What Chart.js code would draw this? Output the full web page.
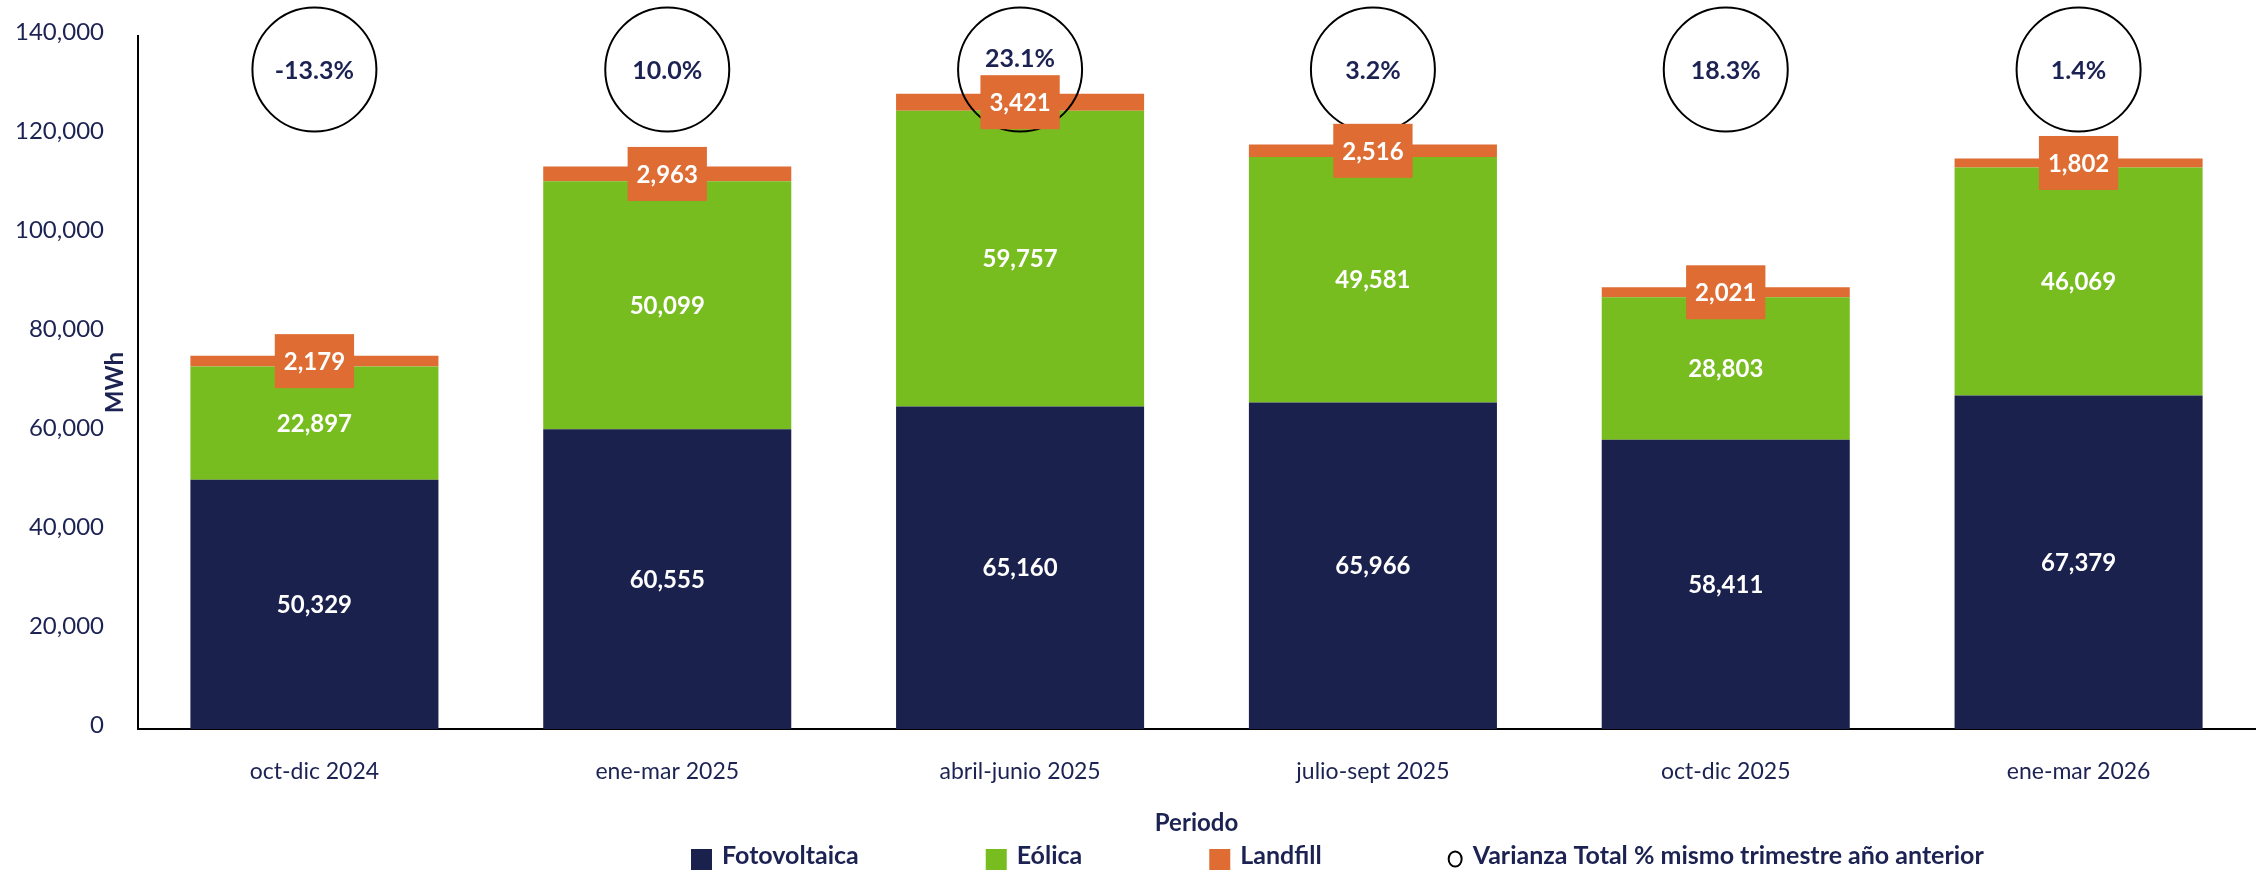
<!DOCTYPE html>
<html>
<head>
<meta charset="utf-8">
<script src="https://cdn.jsdelivr.net/npm/chart.js@4.4.1/dist/chart.umd.min.js"></script>
<style>
  html, body { margin: 0; padding: 0; background: #fff; }
  canvas { display: block; }
</style>
</head>
<body>
<canvas id="myChart" width="2259" height="872"></canvas>
<script>
// data
const periods = ["oct-dic 2024", "ene-mar 2025", "abril-junio 2025", "julio-sept 2025", "oct-dic 2025", "ene-mar 2026"];
const fotovoltaica = [50329, 60555, 65160, 65966, 58411, 67379];
const eolica = [22897, 50099, 59757, 49581, 28803, 46069];
const landfill = [2179, 2963, 3421, 2516, 2021, 1802];
const varianza = [-13.3, 10.0, 23.1, 3.2, 18.3, 1.4];
const yTicks = [0, 20000, 40000, 60000, 80000, 100000, 120000, 140000];

const navy = "#1b214d",
  green = "#78bd20",
  orange = "#de6c33",
  textNavy = "#1c2353",
  fontFam = "Lato, 'Noto Sans', sans-serif";

// number with thousands comma
function fmt(n) {
  return n.toLocaleString("en-US");
}

//circles, value labels and landfill boxes
const labelPlugin = {
  id: "labelPlugin",
  afterDatasetsDraw(chart) {
    const ctx = chart.ctx;
    const xs = chart.scales.x;
    const cyCircle = chart.chartArea.top + 33.5;
    ctx.save();
    ctx.strokeStyle = "#000";
    ctx.lineWidth = 2;
    periods.forEach((p, i) => {
      ctx.beginPath();
      ctx.arc(xs.getPixelForValue(i), cyCircle, 62, 0, Math.PI * 2);
      ctx.stroke();
    });

    ctx.font = "bold 24px " + fontFam;
    ctx.textAlign = "center";
    ctx.textBaseline = "middle";
    ctx.fillStyle = "#fff";
    [0, 1].forEach((d) => {
      chart.getDatasetMeta(d).data.forEach((el, i) => {
        ctx.fillText(fmt(chart.data.datasets[d].data[i]), el.x, (el.y + el.base) / 2 + 1);
      });
    });

    chart.getDatasetMeta(2).data.forEach((el, i) => {
      ctx.font = "bold 24px " + fontFam;
      const t = fmt(landfill[i]);
      const w = ctx.measureText(t).width + 18;
      const cy = (el.y + el.base) / 2;
      ctx.fillStyle = orange;
      ctx.fillRect(el.x - w / 2, cy - 27, w, 54);
      ctx.fillStyle = "#fff";
      ctx.fillText(t, el.x, cy + 1);
      // percent in the circle, pushed up if it would hit the box
      let ty = cyCircle + 1;
      if (ty + 16 > cy - 27) ty = cy - 27 - 16;
      ctx.font = "bold 25px " + fontFam;
      ctx.fillStyle = textNavy;
      ctx.fillText(varianza[i].toFixed(1) + "%", el.x, ty);
    });
    ctx.restore();
  },
  afterDraw(chart) {
    //legend drawn by hand
    const ctx = chart.ctx;
    ctx.save();
    ctx.font = "bold 25px " + fontFam;
    ctx.textBaseline = "middle";
    ctx.textAlign = "left";
    let x = 691;
    const y = 856;
    const items = [
      { text: "Fotovoltaica", color: navy },
      { text: "Eólica", color: green },
      { text: "Landfill", color: orange },
      { text: "Varianza Total % mismo trimestre año anterior", circle: true },
    ];
    items.forEach((it) => {
      if (it.circle) {
        ctx.strokeStyle = "#000";
        ctx.lineWidth = 2;
        ctx.beginPath();
        ctx.ellipse(x + 6.5, y + 3, 6.5, 7.5, 0, 0, Math.PI * 2);
        ctx.stroke();
        x += 24;
      } else {
        ctx.fillStyle = it.color;
        ctx.fillRect(x, y - 7, 21, 21);
        x += 31;
      }
      ctx.fillStyle = textNavy;
      ctx.fillText(it.text, x, y);
      x += ctx.measureText(it.text).width + 127;
    });
    ctx.restore();
  },
};

let ctx = document.getElementById("myChart").getContext("2d");
let myChart = new Chart(ctx, {
  type: "bar",
  data: {
    labels: periods,
    datasets: [
      { label: "Fotovoltaica", data: fotovoltaica, backgroundColor: navy },
      { label: "Eólica", data: eolica, backgroundColor: green },
      { label: "Landfill", data: landfill, backgroundColor: orange },
    ],
  },
  options: {
    responsive: false,
    animation: false,
    layout: { padding: { top: 36, right: 4, left: 0, bottom: 0 } },
    datasets: { bar: { barPercentage: 0.703, categoryPercentage: 1.0, borderWidth: 0 } },
    plugins: { legend: { display: false }, tooltip: { enabled: false } },
    scales: {
      x: {
        stacked: true,
        grid: { display: false, drawTicks: false },
        border: { display: true, color: "#000", width: 2 },
        ticks: { color: textNavy, font: { family: fontFam, size: 23 }, padding: 29, maxRotation: 0 },
        title: {
          display: true,
          text: "Periodo",
          color: textNavy,
          font: { family: fontFam, size: 24, weight: "bold" },
          padding: { top: 0, bottom: 34 },
        },
        afterFit: (scale) => { scale.height = 143; },
      },
      y: {
        stacked: true,
        min: 0,
        max: 140000,
        grid: { display: false, drawTicks: false },
        border: { display: true, color: "#000", width: 2 },
        afterBuildTicks: (scale) => { scale.ticks = yTicks.map((v) => ({ value: v })); },
        ticks: {
          color: textNavy,
          font: { family: fontFam, size: 24 },
          padding: 34,
          labelOffset: -4,
          callback: (v) => fmt(v),
        },
        title: {
          display: true,
          text: "MWh",
          color: textNavy,
          font: { family: fontFam, size: 24, weight: "bold" },
          padding: { top: 101, bottom: 0 },
        },
        afterFit: (scale) => {
          scale.width = 138;
          // tick padding should not push the plot down
          scale.paddingTop = 0;
          scale.paddingBottom = 0;
        },
      },
    },
  },
  plugins: [labelPlugin],
});
</script>
</body>
</html>
